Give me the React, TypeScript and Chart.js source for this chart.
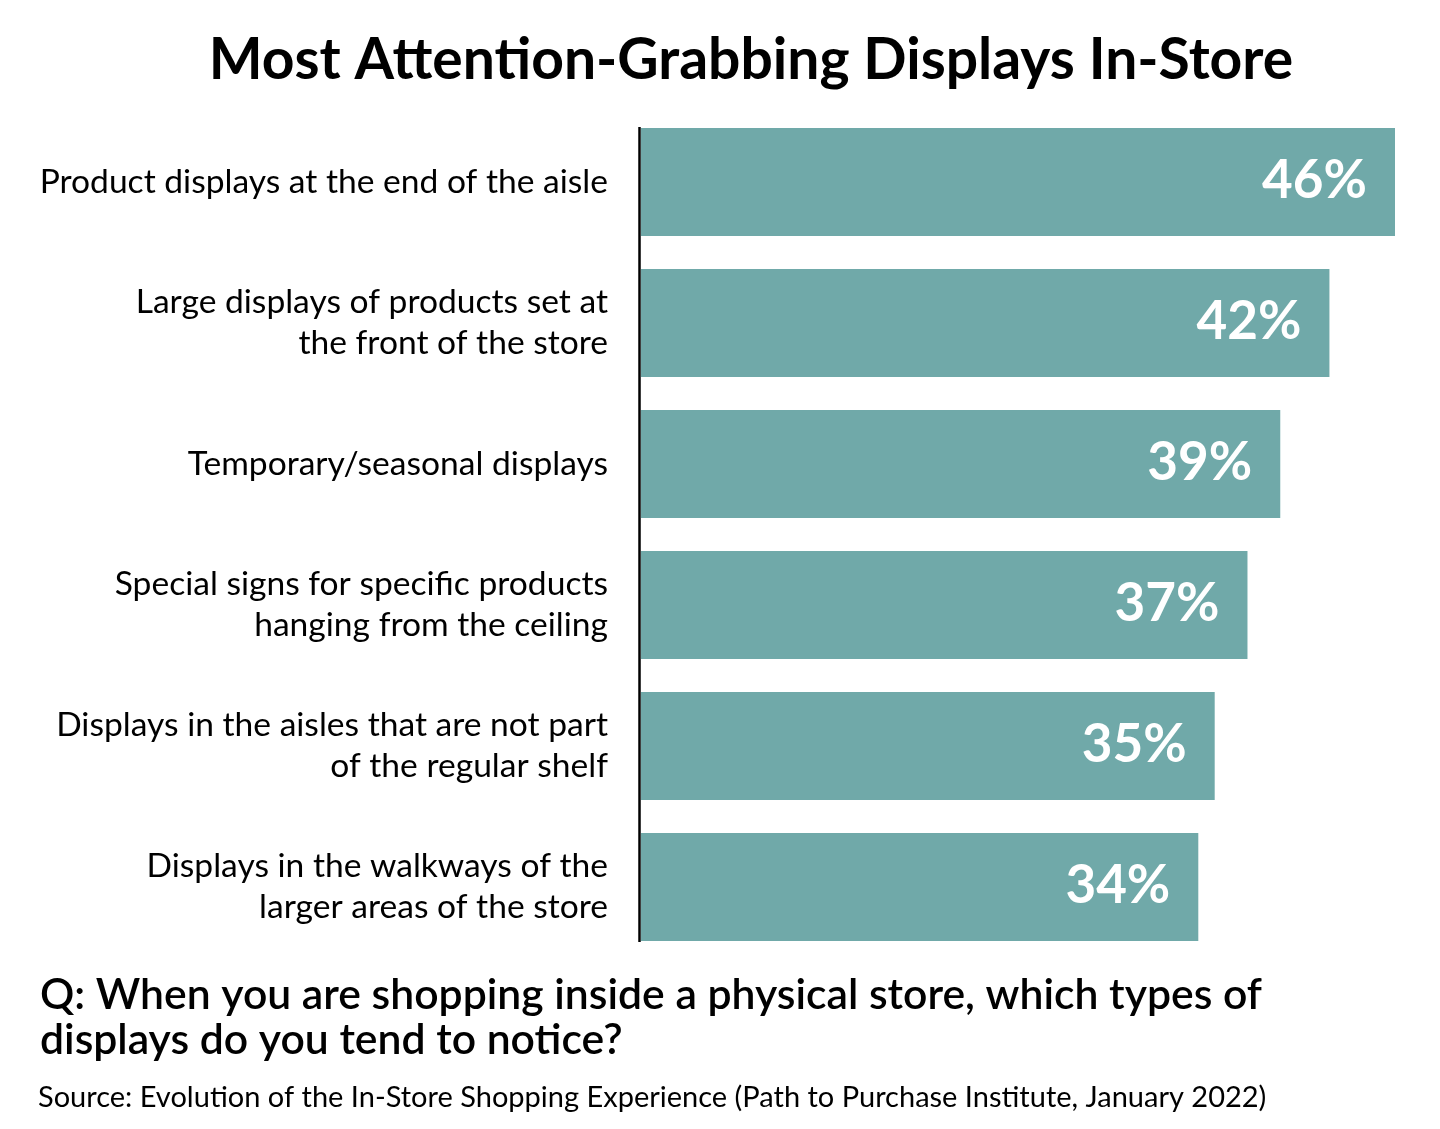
import React, { useEffect, useRef } from "react";
import { Chart, registerables } from "chart.js";

Chart.register(...registerables);

const categories: string[][] = [
  ["Product displays at the end of the aisle"],
  ["Large displays of products set at", "the front of the store"],
  ["Temporary/seasonal displays"],
  ["Special signs for specific products", "hanging from the ceiling"],
  ["Displays in the aisles that are not part", "of the regular shelf"],
  ["Displays in the walkways of the", "larger areas of the store"],
];
const values: number[] = [46, 42, 39, 37, 35, 34];
const valueLabels: string[] = ["46%", "42%", "39%", "37%", "35%", "34%"];

const titleText = "Most Attention-Grabbing Displays In-Store";
const questionLines = [
  "Q: When you are shopping inside a physical store, which types of",
  "displays do you tend to notice?",
];
const sourceText =
  "Source: Evolution of the In-Store Shopping Experience (Path to Purchase Institute, January 2022)";

const BAR_COLOR = "#70A9A9";

const textPlugin = {
  id: "texts",
  afterDraw(chart: any) {
    const ctx = chart.ctx;
    ctx.save();
    // title
    ctx.fillStyle = "#000";
    ctx.textBaseline = "middle";
    ctx.textAlign = "center";
    ctx.font = "bold 57px Lato";
    ctx.fillText(titleText, 751, 61);

    // value labels
    const meta = chart.getDatasetMeta(0);
    ctx.fillStyle = "#fff";
    ctx.textAlign = "right";
    ctx.font = "bold 53px Lato";
    meta.data.forEach((bar: any, i: number) => {
      ctx.fillText(valueLabels[i], bar.x - 28, bar.y - 1);
    });

    // axis line
    const first = meta.data[0];
    const last = meta.data[meta.data.length - 1];
    ctx.strokeStyle = "#000";
    ctx.lineWidth = 2.5;
    ctx.beginPath();
    ctx.moveTo(chart.chartArea.left - 1.5, first.y - first.height / 2 - 1);
    ctx.lineTo(chart.chartArea.left - 1.5, last.y + last.height / 2 + 1);
    ctx.stroke();

    // question
    ctx.fillStyle = "#000";
    ctx.textAlign = "left";
    ctx.font = "600 42.7px Lato";
    ctx.fillText(questionLines[0], 40, 995);
    ctx.fillText(questionLines[1], 40, 1040);

    // source
    ctx.font = "29px Lato";
    ctx.fillText(sourceText, 38, 1098);
    ctx.restore();
  },
};

export default function App() {
  const ref = useRef<HTMLCanvasElement | null>(null);
  useEffect(() => {
    if (!ref.current) return;
    const chart = new Chart(ref.current, {
      type: "bar",
      data: {
        labels: categories,
        datasets: [
          {
            data: values,
            backgroundColor: BAR_COLOR,
            borderWidth: 0,
            barPercentage: 108 / 141,
            categoryPercentage: 1,
          },
        ],
      },
      options: {
        indexAxis: "y",
        responsive: false,
        animation: false,
        layout: { padding: { top: 111.5, bottom: 171.5, left: 0, right: 45 } },
        plugins: { legend: { display: false }, tooltip: { enabled: false }, title: { display: false } },
        scales: {
          x: { min: 0, max: 46, display: false, grid: { display: false } },
          y: {
            grid: { display: false, drawTicks: false },
            border: { display: false },
            ticks: {
              color: "#000",
              padding: 33,
              font: { family: "Lato", size: 33.6, lineHeight: 1.22 },
              crossAlign: "near",
            },
            afterFit: (scale: any) => {
              scale.width = 641;
            },
          },
        },
      },
      plugins: [textPlugin],
    });
    return () => chart.destroy();
  }, []);
  return (
    <div style={{ position: "absolute", left: 0, top: 0, width: 1440, height: 1129, background: "#fff" }}>
      <canvas ref={ref} width={1440} height={1129} />
    </div>
  );
}
